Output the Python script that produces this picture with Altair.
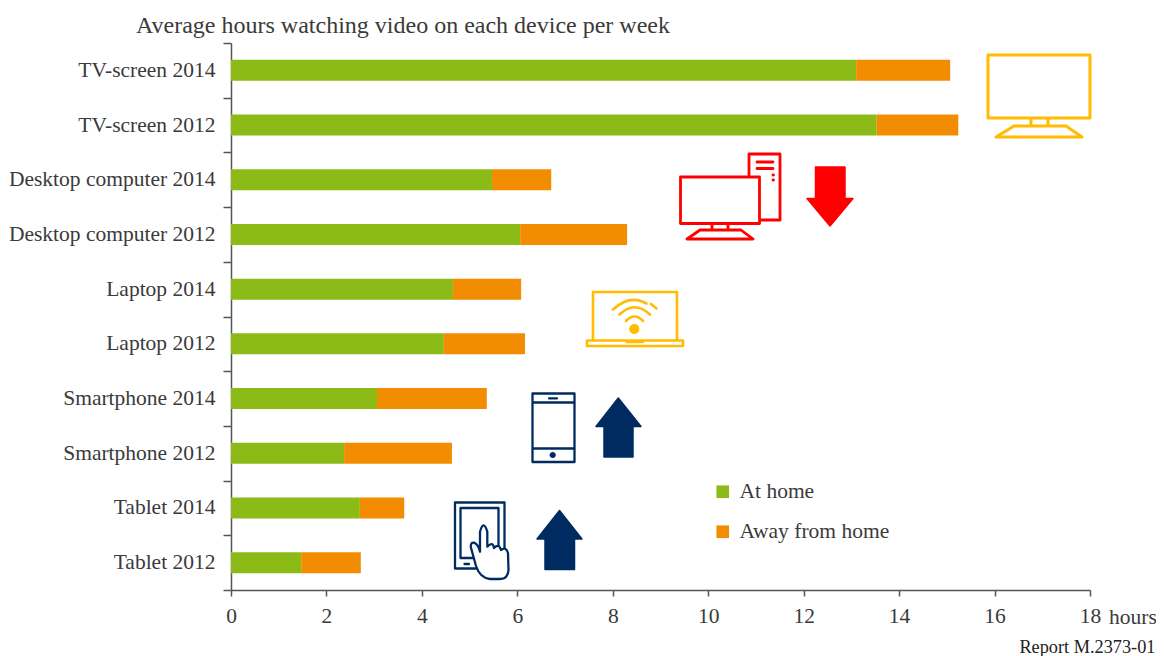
import re
import altair as alt
import pandas as pd

categories = ["TV-screen 2014", "TV-screen 2012", "Desktop computer 2014", "Desktop computer 2012",
              "Laptop 2014", "Laptop 2012", "Smartphone 2014", "Smartphone 2012", "Tablet 2014", "Tablet 2012"]
at_home = [13.10, 13.53, 5.47, 6.06, 4.65, 4.46, 3.06, 2.37, 2.70, 1.47]
away = [1.97, 1.71, 1.24, 2.24, 1.43, 1.70, 2.30, 2.26, 0.93, 1.25]
series = ["At home", "Away from home"]
colors = ["#8CBA17", "#F28C00"]
ticks = [0, 2, 4, 6, 8, 10, 12, 14, 16, 18]

FONT = "Liberation Serif"
FS = 21.5
INK = "#3A3A3A"
AXIS = "#555555"
LEFT, TOP = 231, 43
YEL, RED, NAVY = "#FFBC00", "#FF0000", "#002B60"

rows = []
for c, h, a in zip(categories, at_home, away):
    rows.append({"cat": c, "series": series[0], "hours": h, "o": 0})
    rows.append({"cat": c, "series": series[1], "hours": a, "o": 1})
df = pd.DataFrame(rows)

bars = alt.Chart(df).mark_bar(size=21, stroke=None).encode(
    x=alt.X("hours:Q", stack="zero",
            scale=alt.Scale(domain=[0, 18], nice=False),
            axis=alt.Axis(values=ticks, title=None, grid=False, tickSize=6, labelPadding=9,
                          labelFlush=False, labelOverlap=False,
                          domainColor=AXIS, tickColor=AXIS, domainWidth=1.5, tickWidth=1.5,
                          labelFont=FONT, labelFontSize=FS, labelColor=INK)),
    y=alt.Y("cat:N", sort=categories,
            scale=alt.Scale(paddingInner=0, paddingOuter=0),
            axis=alt.Axis(title=None, grid=False, tickSize=8, labelPadding=8, tickBand="extent",
                          domainColor=AXIS, tickColor=AXIS, domainWidth=1.5, tickWidth=1.5,
                          labelFont=FONT, labelFontSize=FS, labelColor=INK, labelLimit=300)),
    color=alt.Color("series:N", scale=alt.Scale(domain=series, range=colors),
                    legend=alt.Legend(orient="none", legendX=481, legendY=438, title=None,
                                      symbolType="square", symbolSize=160, symbolStrokeWidth=0,
                                      labelFont=FONT, labelFontSize=FS, labelColor=INK,
                                      labelOffset=6, rowPadding=17, symbolOpacity=1)),
    order=alt.Order("o:Q"),
)

R = 100.0
CX, CY = 1000, 300


def icon(d, color, width=3.0, fill=None):
    """Draw an SVG pictogram, written in page pixels, as a custom point symbol."""
    tokens = re.findall(r"[A-Za-z]|-?\d+\.?\d*", d)
    out, is_x = [], True
    for t in tokens:
        if t.isalpha():
            out.append(t)
            is_x = True
        else:
            v = float(t) - (CX if is_x else CY)
            out.append(f"{v / R:.4f}")
            is_x = not is_x
    kw = dict(shape=" ".join(out), size=(2 * R) ** 2, stroke=color, strokeWidth=width,
              strokeJoin="round", strokeCap="round", opacity=1)
    if fill:
        kw.update(filled=True, fill=fill)
    else:
        kw.update(filled=False)
    return alt.Chart(pd.DataFrame({"k": [0]})).mark_point(**kw).encode(
        x=alt.value(CX - LEFT), y=alt.value(CY - TOP))


def disc(cx, cy, r):
    return (f"M {cx - r} {cy} Q {cx - r} {cy - r} {cx} {cy - r} Q {cx + r} {cy - r} {cx + r} {cy} "
            f"Q {cx + r} {cy + r} {cx} {cy + r} Q {cx - r} {cy + r} {cx - r} {cy} Z")


icons = [
    # TV screen
    icon("M 988 55 L 1090 55 L 1090 118 L 988 118 Z M 1031 118 L 1031 126 M 1048 118 L 1048 126 "
         "M 1014 126 L 1066 126 L 1082 137 L 996 137 Z", YEL, 3),
    # desktop tower + monitor
    icon("M 749 175 L 749 154 L 780 154 L 780 220 L 760 220 "
         "M 757 162 L 773 162 M 757 168.5 L 773 168.5 M 773 175 L 773.5 175 M 773 180 L 773.5 180 "
         "M 680.5 177 L 759.5 177 L 759.5 223.5 L 680.5 223.5 Z "
         "M 712 224 L 712 230 M 728 224 L 728 230 M 700 230 L 741 230 L 753 239 L 687 239 Z", RED, 2.8),
    # down arrow
    icon("M 815.5 167 L 845 167 L 845 198.5 L 853 198.5 L 830 226 L 807 198.5 L 815.5 198.5 Z", RED, 1.5, RED),
    # laptop
    icon("M 593 340 L 593 292 L 677 292 L 677 340 M 587 340.5 L 683 340.5 L 683 346 L 587 346 Z "
         "M 627 342 L 643 342 "
         "M 626 321 Q 634.5 312 643 321 M 619.5 314.5 Q 634.5 300 650 314.5 "
         "M 613 309.5 Q 630 294 646.5 303.5 M 651 304 L 656.5 308.5", YEL, 2.6),
    icon(disc(634.3, 329, 4.5), YEL, 1, YEL),
    # smartphone
    icon("M 532.5 393.5 L 574.5 393.5 L 574.5 462 L 532.5 462 Z M 532.5 402.5 L 574.5 402.5 "
         "M 532.5 448.5 L 574.5 448.5 M 549 398.3 L 557 398.3", NAVY, 2.3),
    icon(disc(552.7, 455, 2.6), NAVY, 1, NAVY),
    # up arrows
    icon("M 618.3 398 L 641 426.5 L 633 426.5 L 633 457 L 604 457 L 604 426.5 L 596 426.5 Z", NAVY, 1.5, NAVY),
    icon("M 559.5 510.5 L 582 539 L 574.5 539 L 574.5 569.5 L 545 569.5 L 545 539 L 537 539 Z", NAVY, 1.5, NAVY),
    # tablet
    icon("M 455 502.5 L 504.5 502.5 L 504.5 568.5 L 455 568.5 Z M 460.5 508 L 498.5 508 L 498.5 558 L 460.5 558 Z "
         "M 464.5 564 L 469 564", NAVY, 2.3),
    # hand
    icon("M 470.7 546.7 Q 471 542 474 542.7 Q 478 544 480 551.7 L 480 531.7 Q 483.5 519 487.3 531.7 "
         "L 487.3 546.7 Q 493 541 494 548 Q 499 543 501 550 Q 506 546 508 553 L 508.5 570 "
         "Q 508 579 500 579 L 490 579 Q 480 578 476 566 Z", NAVY, 2.3, "#FFFFFF"),
]


def note(text, px, py, size, align="left", color=INK):
    return alt.Chart(pd.DataFrame({"t": [text]})).mark_text(
        font=FONT, fontSize=size, color=color, align=align, baseline="alphabetic").encode(
        text="t:N", x=alt.value(px - LEFT), y=alt.value(py - TOP))


texts = [
    note("Average hours watching video on each device per week", 136, 33, 24),
    note("hours", 1109, 624, FS),
    note("Report M.2373-01", 1155.5, 653, 18.3, align="right", color="#222222"),
]

chart = alt.layer(bars, *icons, *texts).properties(
    width=859, height=547,
    padding={"left": 223, "top": 35, "right": 66, "bottom": 66},
    autosize=alt.AutoSizeParams(type="none"),
    background="#FFFFFF",
).configure_view(stroke=None)

chart.save("out.html", embed_options={"renderer": "svg", "actions": False})
